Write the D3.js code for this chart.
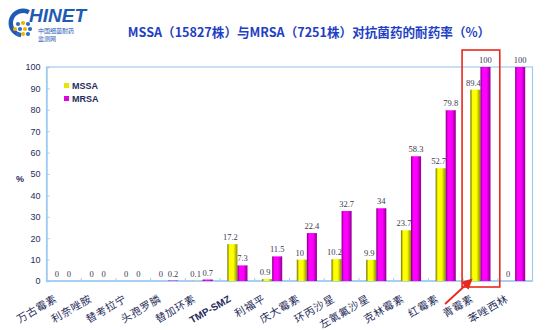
<!DOCTYPE html>
<html><head><meta charset="utf-8">
<script src="https://cdn.jsdelivr.net/npm/d3@7"></script>
<style>
html,body{margin:0;padding:0;background:#fff;}
svg{display:block;}
</style></head>
<body>
<svg id="chart" width="550" height="330"></svg>
<script>
const title = "MSSA（15827株）与MRSA（7251株）对抗菌药的耐药率（%）";
const categories = ["万古霉素","利奈唑胺","替考拉宁","头孢罗膦","替加环素","TMP-SMZ","利福平","庆大霉素","环丙沙星","左氧氟沙星","克林霉素","红霉素","青霉素","苯唑西林"];
const seriesNames = ["MSSA","MRSA"];
const mssa = [0,0,0,0,0.1,17.2,0.9,10,10.2,9.9,23.7,52.7,89.4,0];
const mrsa = [0,0,0,0.2,0.7,7.3,11.5,22.4,32.7,34,58.3,79.8,100,100];
const yTicks = [0,10,20,30,40,50,60,70,80,90,100];
const highlight = "青霉素";

const svg = d3.select("#chart");
const m = {left:46.5, right:532.5, top:67, bottom:281};

// gradients
const defs = svg.append("defs");
function grad(id, edgeL, mid, edgeR){
  const g = defs.append("linearGradient").attr("id", id).attr("x1","0").attr("x2","1").attr("y1","0").attr("y2","0");
  g.append("stop").attr("offset","0%").attr("stop-color", edgeL);
  g.append("stop").attr("offset","22%").attr("stop-color", mid);
  g.append("stop").attr("offset","60%").attr("stop-color", mid);
  g.append("stop").attr("offset","100%").attr("stop-color", edgeR);
}
grad("gY", "#6b6b00", "#ffff00", "#8c8c00");
grad("gM", "#7a007a", "#ff00ff", "#900090");
const colors = {MSSA:"url(#gY)", MRSA:"url(#gM)"};
const solid = {MSSA:"#e6e600", MRSA:"#e000e0"};

// Logo
const logo = svg.append("g");
logo.append("path")
  .attr("d", d3.arc()({innerRadius:10, outerRadius:14.5, startAngle:Math.PI*1.05, endAngle:Math.PI*2+0.5}))
  .attr("transform","translate(23,23)").attr("fill","#1f5bb5");
const dotPos = [[18,24,"#2b6cc4"],[23,23,"#f0b400"],[28,24,"#2b6cc4"],[15,29,"#f0b400"],[20,29,"#2b6cc4"],[25,29,"#f0b400"],[30,29,"#2b6cc4"],[18,34,"#2b6cc4"],[23,34,"#f0b400"],[28,34,"#2b6cc4"]];
logo.selectAll("circle").data(dotPos).join("circle")
  .attr("cx",d=>d[0]).attr("cy",d=>d[1]).attr("r",2.1).attr("fill",d=>d[2]);
logo.append("text").attr("x",29).attr("y",22).text("HINET")
  .attr("font-family","Liberation Sans, Arial, sans-serif").attr("font-weight","bold").attr("font-style","italic")
  .attr("font-size",19).attr("fill","#1f5bb5");
logo.append("text").attr("x",38).attr("y",33).text("中国细菌耐药")
  .attr("font-family","Noto Sans CJK SC").attr("font-size",6).attr("fill","#1f5bb5");
logo.append("text").attr("x",38).attr("y",40.5).text("监测网")
  .attr("font-family","Noto Sans CJK SC").attr("font-size",6).attr("fill","#1f5bb5");

// Title
svg.append("text").attr("x",309).attr("y",37).attr("text-anchor","middle")
  .attr("font-family","Noto Sans CJK SC").attr("font-weight","bold").attr("font-size",12.6)
  .attr("fill","#1f3fc4").text(title);

// Scales
const x = d3.scaleBand().domain(categories).range([m.left, m.right]).padding(0);
const bw = x.bandwidth();
const xs = d3.scaleBand().domain(seriesNames).range([bw*0.21, bw*0.79]).padding(0);
const y = d3.scaleLinear().domain([0,100]).range([m.bottom, m.top]);

// Frame
const frameColor = "#9fcbf2";
svg.append("rect").attr("x",m.left).attr("y",m.top).attr("width",m.right-m.left).attr("height",m.bottom-m.top)
  .attr("fill","none").attr("stroke",frameColor).attr("stroke-width",1.2);

// Y axis
const yAxis = d3.axisRight(y).tickValues(yTicks).tickSize(3).tickFormat(d3.format("d"));
const gy = svg.append("g").attr("transform",`translate(${m.left},0)`).call(yAxis);
gy.select(".domain").attr("stroke",frameColor).attr("stroke-width",1.5);
gy.selectAll(".tick line").attr("stroke",frameColor);
gy.selectAll(".tick text").attr("x",-6).attr("text-anchor","end")
  .attr("font-family","Liberation Sans, Arial, sans-serif").attr("font-size",9).attr("fill","#1f2d5a");
svg.append("text").attr("x",20).attr("y",182).attr("text-anchor","middle")
  .attr("font-family","Liberation Sans, Arial, sans-serif").attr("font-weight","bold").attr("font-size",9)
  .attr("fill","#1f2d5a").text("%");

// X axis (category boundaries)
const bounds = categories.map(c => x(c)).slice(1).concat([m.right]);
svg.append("line").attr("x1",m.left).attr("x2",m.right).attr("y1",m.bottom).attr("y2",m.bottom)
  .attr("stroke",frameColor).attr("stroke-width",1.5);
svg.append("g").selectAll("line").data(bounds).join("line")
  .attr("x1",d=>d).attr("x2",d=>d).attr("y1",m.bottom).attr("y2",m.bottom-3)
  .attr("stroke",frameColor);

// Bars
const rows = categories.map((c,i)=>({cat:c, vals:[{s:"MSSA",v:mssa[i]},{s:"MRSA",v:mrsa[i]}]}));
const groups = svg.append("g").selectAll("g").data(rows).join("g")
  .attr("transform",d=>`translate(${x(d.cat)},0)`);
groups.selectAll("rect").data(d=>d.vals).join("rect")
  .attr("x",d=>xs(d.s)).attr("width",xs.bandwidth())
  .attr("y",d=>y(d.v)).attr("height",d=>m.bottom-y(d.v))
  .attr("fill",d=>colors[d.s]);
groups.selectAll("text.val").data(d=>d.vals).join("text").attr("class","val")
  .attr("x",d=>xs(d.s)+xs.bandwidth()/2-(d.s==="MSSA"?2:0)).attr("y",d=>y(d.v)-4)
  .attr("text-anchor","middle").attr("font-family","Liberation Serif, Times New Roman, serif")
  .attr("font-size",8.5).attr("fill","#3a3a50").text(d=>d.v);

// Category labels
svg.append("g").selectAll("text").data(categories).join("text")
  .attr("transform",d=>`translate(${x(d)+bw/2-6},${m.bottom+20}) rotate(-30)`)
  .attr("text-anchor","end")
  .attr("font-family",d=>/^[A-Z]/.test(d)?"Liberation Sans, Arial, sans-serif":"Noto Sans CJK SC")
  .attr("font-weight",d=>/^[A-Z]/.test(d)?"bold":"normal")
  .attr("font-size",d=>/^[A-Z]/.test(d)?10:10.5)
  .attr("letter-spacing",d=>/^[A-Z]/.test(d)?0:0.6)
  .attr("fill","#1f2d5a").text(d=>d);

// Legend
const lg = svg.append("g").attr("transform","translate(64,86)");
seriesNames.forEach((s,i)=>{
  lg.append("rect").attr("x",0).attr("y",i*13-3).attr("width",5).attr("height",5).attr("fill",solid[s]);
  lg.append("text").attr("x",8).attr("y",i*13+2.5).attr("font-family","Liberation Sans, Arial, sans-serif")
    .attr("font-weight","bold").attr("font-size",9).attr("fill","#1f2d5a").text(s);
});

// Highlight box + arrow
const hx = x(highlight);
svg.append("rect").attr("x",hx-1).attr("y",50).attr("width",bw+3).attr("height",237)
  .attr("fill","none").attr("stroke","#e8281e").attr("stroke-width",1.6);
defs.append("marker").attr("id","arr").attr("viewBox","0 0 10 10").attr("refX",8).attr("refY",5)
  .attr("markerWidth",6).attr("markerHeight",6).attr("orient","auto")
  .append("path").attr("d","M0,0 L10,5 L0,10 z").attr("fill","#e8281e");
svg.append("line").attr("x1",hx-18).attr("y1",304).attr("x2",hx+8).attr("y2",280)
  .attr("stroke","#e8281e").attr("stroke-width",1.8).attr("marker-end","url(#arr)");
</script>
</body></html>
